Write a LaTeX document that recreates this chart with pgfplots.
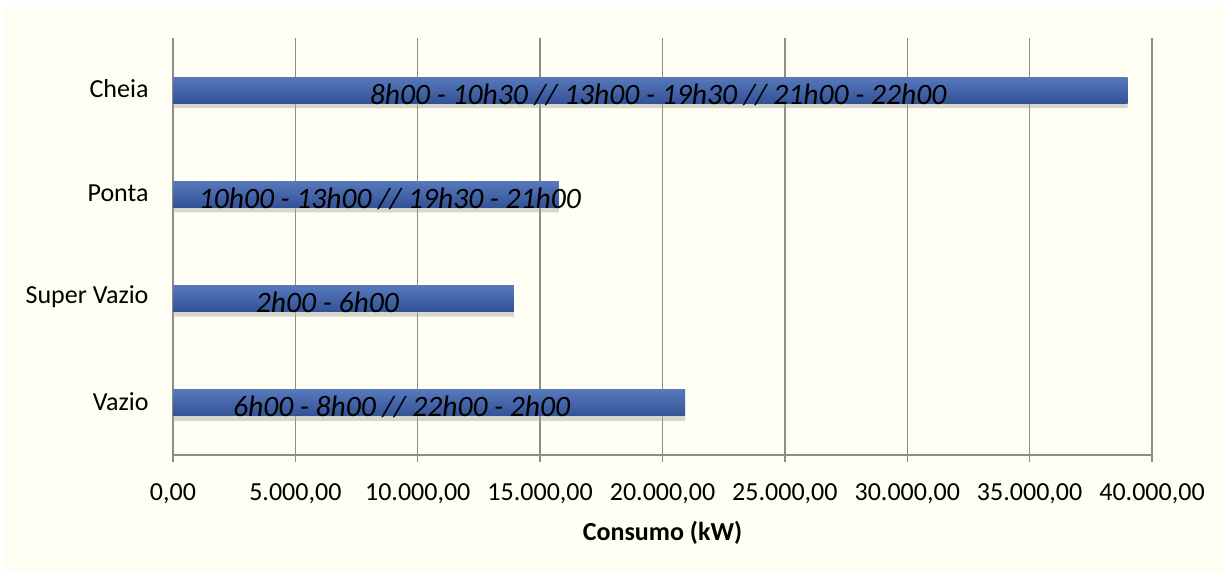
\documentclass[border=0pt]{standalone}
\usepackage{fontspec}
\setmainfont{Carlito}
\usepackage{pgfplots}
\pgfplotsset{compat=1.18}
\definecolor{bg}{RGB}{254,254,242}
\definecolor{gridc}{RGB}{140,140,140}
\definecolor{bartop}{RGB}{86,121,188}
\definecolor{barbot}{RGB}{52,82,150}
\begin{document}
\begin{tikzpicture}
\fill[white] (0,0) rectangle (1224bp,572bp);
\fill[bg] (3bp,0) rectangle (1224bp,565bp);
\begin{axis}[
  at={(173bp,117bp)}, anchor=south west,
  scale only axis, width=979bp, height=417bp,
  xmin=0, xmax=40000, ymin=-0.5, ymax=3.5,
  axis x line*=bottom, axis y line*=left,
  axis line style={gridc, line width=1.3bp, -},
  xtick={0,5000,10000,15000,20000,25000,30000,35000,40000},
  xticklabels={{0,00},{5.000,00},{10.000,00},{15.000,00},{20.000,00},{25.000,00},{30.000,00},{35.000,00},{40.000,00}},
  ytick={0,1,2,3}, yticklabels={Vazio,Super Vazio,Ponta,Cheia},
  xmajorgrids, major grid style={gridc, line width=1.3bp},
  tick style={gridc, line width=1.3bp},
  major tick length=7bp, tick align=outside,
  ytick style={draw=none},
  ticklabel style={font=\fontsize{26bp}{31bp}\selectfont, text=black},
  xticklabel style={yshift=-18bp},
  yticklabel style={xshift=-14bp, yshift=1.5bp},
  scaled x ticks=false,
  clip=false,
  every axis plot/.append style={xbar, bar width=26bp, draw=none},
]
\addplot[bar shift=-5bp, fill=black!35, opacity=0.45]
  coordinates {(20920,0) (13930,1) (15770,2) (39000,3)};
\addplot[bar shift=0bp, top color=bartop, bottom color=barbot] coordinates {(20920,0)};
\addplot[bar shift=0bp, top color=bartop, bottom color=barbot] coordinates {(13930,1)};
\addplot[bar shift=0bp, top color=bartop, bottom color=barbot] coordinates {(15770,2)};
\addplot[bar shift=0bp, top color=bartop, bottom color=barbot] coordinates {(39000,3)};
\begin{scope}[every node/.style={font=\fontsize{29.6bp}{34bp}\selectfont\itshape, anchor=base, inner sep=0pt}]
\node at (axis cs:19820,3) [yshift=-14bp] {8h00 - 10h30 // 13h00 - 19h30 // 21h00 - 22h00};
\node at (axis cs:8860,2) [yshift=-14bp] {10h00 - 13h00 // 19h30 - 21h00};
\node at (axis cs:6310,1) [yshift=-14bp] {2h00 - 6h00};
\node at (axis cs:9340,0) [yshift=-14bp] {6h00 - 8h00 // 22h00 - 2h00};
\end{scope}
\end{axis}
\node[font=\fontsize{26bp}{31bp}\selectfont\bfseries, anchor=base] at (662.5bp,32bp) {Consumo (kW)};
\end{tikzpicture}
\end{document}
